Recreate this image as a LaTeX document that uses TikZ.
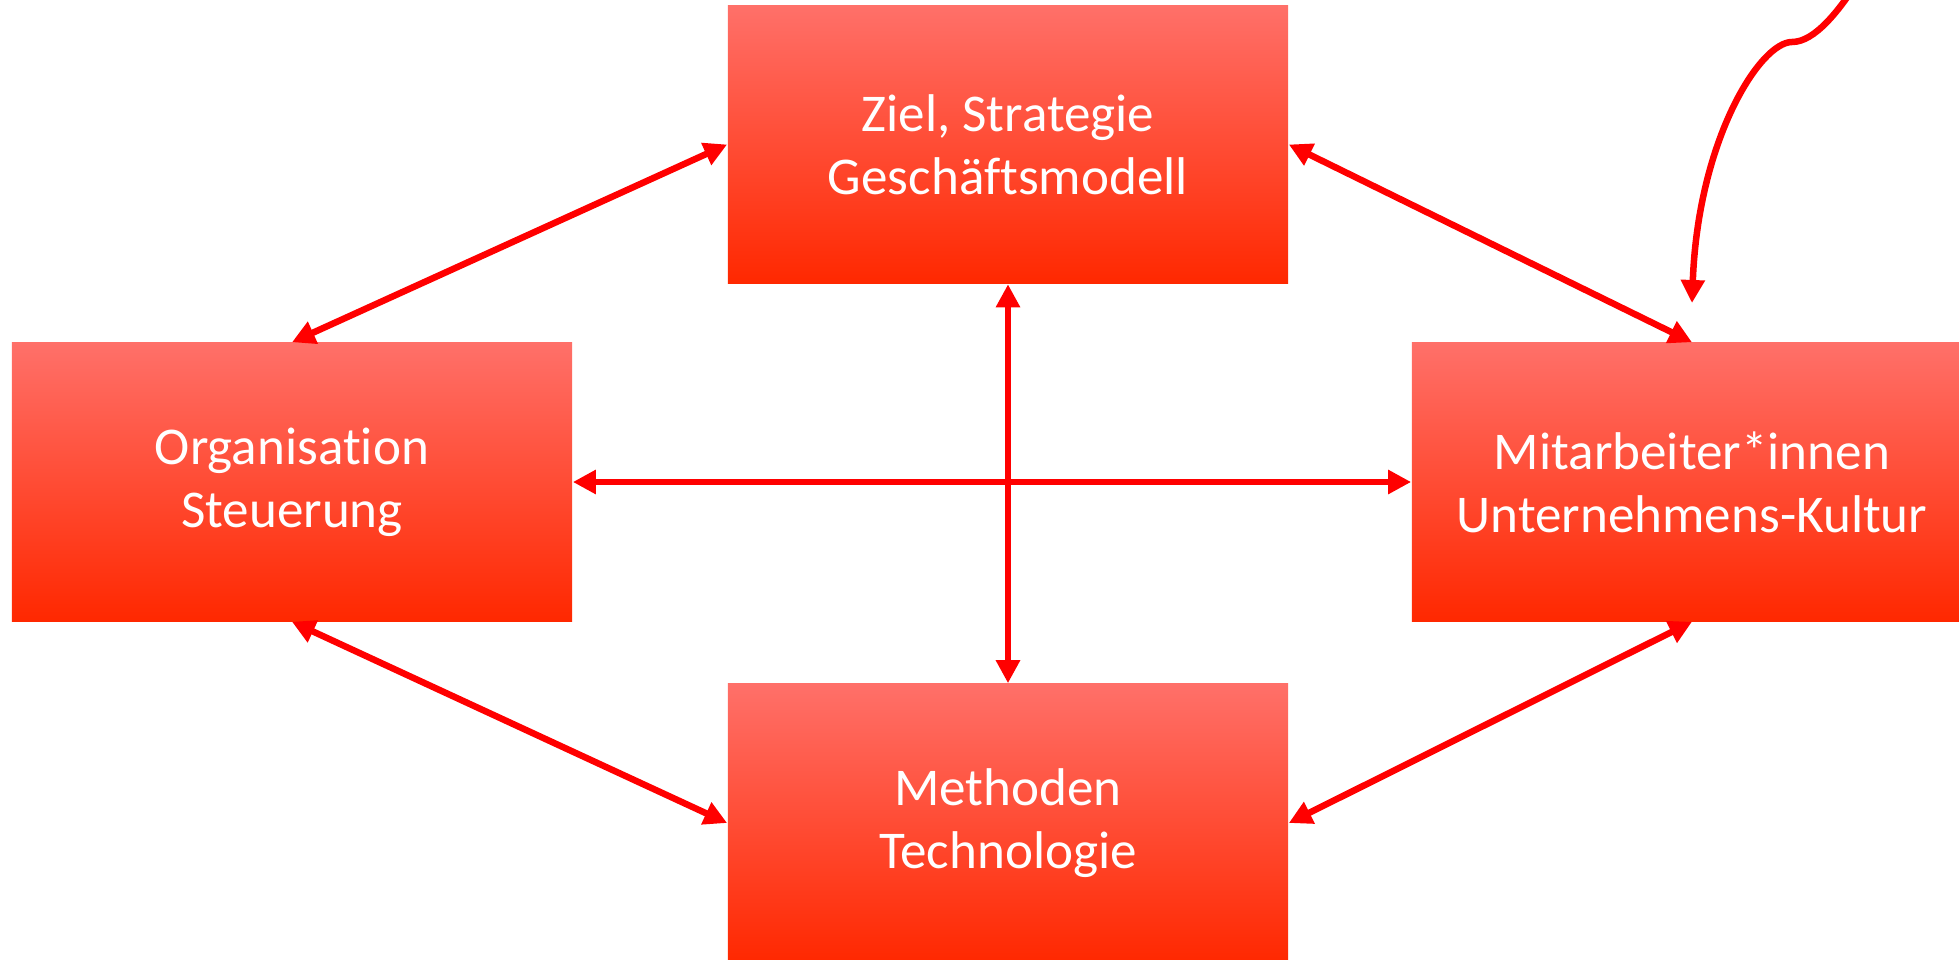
\documentclass[tikz,border=0pt]{standalone}
\usepackage{fontspec}
\setmainfont[Ligatures=NoCommon]{Carlito}
\usetikzlibrary{arrows.meta}

\definecolor{feldoben}{HTML}{FF7069}
\definecolor{feldunten}{HTML}{FF2800}
\definecolor{pfeilrot}{HTML}{FF0000}

\begin{document}
\begin{tikzpicture}[x=0.01cm,y=0.01cm,
  feld/.style={rectangle, inner sep=0pt, minimum width=5.6cm, minimum height=2.78cm,
    top color=feldoben, bottom color=feldunten, text=white, align=center,
    font=\fontsize{15.1}{17.9}\selectfont},
  spitze/.tip={Triangle[length=0.23cm,width=0.23cm]},
  bezug/.style={pfeilrot, line width=0.065cm, spitze-spitze}]
  \clip (0,0) rectangle (1959,959); % page = 1959 x 959
  % the four fields
  \node[feld] (ziel) at (1008,814.5) {Ziel, Strategie\\Geschäftsmodell};
  \node[feld] (org)  at (292,477)    {Organisation\\Steuerung};
  \node[feld] (mit)  at (1692,477)   {Mitarbeiter*innen\\Unternehmens-Kultur};
  \node[feld] (meth) at (1008,136)   {Methoden\\Technologie};
  % links between the fields
  \foreach \von/\nach in {org.north/ziel.west, ziel.east/mit.north,
                          org.south/meth.west, mit.south/meth.east,
                          org.east/mit.west, ziel.south/meth.north} {
    \draw[bezug] (\von) -- (\nach);
  }
  % impulse from outside
  \coordinate (anstoss) at (1862,984);
  \coordinate (knick)   at (1792,917);
  \coordinate (ziel-mit) at (1692,656);
  \draw[pfeilrot, line width=0.065cm, -spitze] (anstoss) .. controls (1840,949) and (1815,917) .. (knick)
    .. controls (1760,917) and (1698,819) .. (ziel-mit);
\end{tikzpicture}
\end{document}
